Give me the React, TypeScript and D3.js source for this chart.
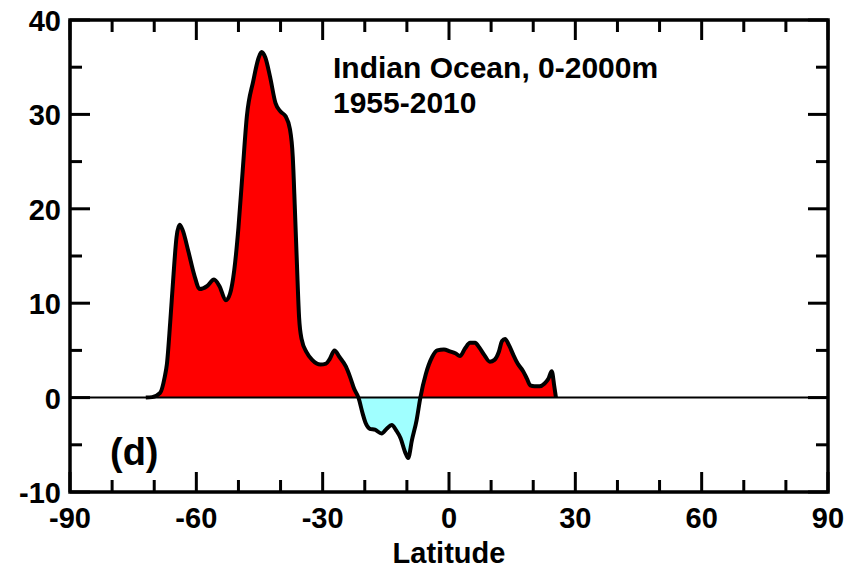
import React from 'react';
import * as d3 from 'd3';

// heat content change by latitude
const latitudes = [
  -72, -70.5, -68.6, -67.5, -67, -66.2, -65.5, -64.7, -64, -63.3, -61.9, -60.5, -59.2, -57.5, -55.8,
  -54.5, -53, -52, -51, -50, -49, -48, -46.5, -45.2, -44.5, -43.6, -42.5, -41.2, -40, -38.8, -37.8,
  -37.1, -36.6, -36.1, -35.6, -35, -33.8, -32.5, -30.5, -29.2, -28.3, -27.2, -26, -24.5, -23.5,
  -22.5, -21.5, -20.5, -19.8, -18.8, -17.6, -16, -14.8, -13.6, -12.5, -11.5, -10.4, -9.7, -8.8,
  -7.7, -6.8, -5.5, -4, -2.8, -1.2, 0.2, 1.5, 2.6, 3.8, 5, 6.2, 7.2, 8.4, 9.7, 10.8, 11.8, 12.6,
  13.3, 14.3, 15.3, 16.3, 17.6, 18.5, 19.3, 20.3, 21.5, 22.7, 23.6, 24.4, 25, 25.4,
];
const values = [
  0, 0.05, 0.5, 2.2, 3.5, 8, 12.5, 17, 18.3, 17.8, 15.5, 13, 11.5, 11.8, 12.5,
  11.8, 10.3, 11, 13.5, 18, 24, 29.8, 33.5, 36, 36.6, 36, 34, 31.2, 30.3, 29.8, 28.5,
  25.5, 20, 14, 8.5, 6.2, 4.8, 4, 3.5, 3.6, 4.1, 5, 4.3, 3.3, 2.2,
  0.9, 0, -1.7, -2.7, -3.3, -3.4, -3.8, -3.3, -2.9, -3.5, -4.3, -5.8, -6.4, -4.5,
  -2.4, 0, 2.5, 4.3, 5, 5.1, 4.9, 4.7, 4.4, 5.2, 5.8, 5.8, 5.3, 4.5, 3.8, 4, 4.8, 6,
  6.2, 5.5, 4.5, 3.6, 2.8, 2, 1.3, 1.2, 1.2, 1.5, 2, 2.8, 1.2, 0,
];
const xTicks = [-90, -60, -30, 0, 30, 60, 90];
const xMinorTicks = d3.range(-80, 90, 10).filter((d) => d % 30 !== 0);
const yTicks = [-10, 0, 10, 20, 30, 40];
const yMinorTicks = [-5, 5, 15, 25, 35];
const title = ['Indian Ocean, 0-2000m', '1955-2010'];

const width = 858;
const height = 571;
const margin = { top: 20, right: 30, bottom: 79, left: 70 };
const font = '"Liberation Sans", Arial, sans-serif';

const App = () => {
  const x = d3.scaleLinear().domain([-90, 90]).range([margin.left, width - margin.right]);
  const y = d3.scaleLinear().domain([-10, 40]).range([height - margin.bottom, margin.top]);

  const data = latitudes.map((lat, i) => ({ lat, v: values[i] }));

  const area = d3.area<{ lat: number; v: number }>()
    .x((d) => x(d.lat))
    .y0(y(0))
    .y1((d) => y(d.v))
    .curve(d3.curveMonotoneX);
  const line = d3.line<{ lat: number; v: number }>()
    .x((d) => x(d.lat))
    .y((d) => y(d.v))
    .curve(d3.curveMonotoneX);

  const [x0, x1] = x.range();
  const [yb, yt] = y.range();

  return (
    <svg width={width} height={height} style={{ position: 'absolute', left: 0, top: 0 }}
      fontFamily={font} fontWeight="bold">
      <defs>
        <clipPath id="above">
          <rect x={x0} y={yt} width={x1 - x0} height={y(0) - yt} />
        </clipPath>
        <clipPath id="below">
          <rect x={x0} y={y(0)} width={x1 - x0} height={yb - y(0)} />
        </clipPath>
      </defs>
      <rect width={width} height={height} fill="#fff" />

      <path d={area(data) || ''} fill="#ff0000" clipPath="url(#above)" />
      <path d={area(data) || ''} fill="#a0ffff" clipPath="url(#below)" />
      <line x1={x0} x2={x1} y1={y(0)} y2={y(0)} stroke="#000" strokeWidth={2} />
      <path d={line(data) || ''} fill="none" stroke="#000" strokeWidth={4} strokeLinejoin="round" />

      {/* frame */}
      <rect x={x0} y={yt} width={x1 - x0} height={yb - yt} fill="none" stroke="#000" strokeWidth={3.5} />

      {xTicks.map((t) => (
        <g key={'x' + t}>
          <line x1={x(t)} x2={x(t)} y1={yb} y2={yb - 20} stroke="#000" strokeWidth={3} />
          <line x1={x(t)} x2={x(t)} y1={yt} y2={yt + 20} stroke="#000" strokeWidth={3} />
          <text x={x(t)} y={yb + 36} textAnchor="middle" fontSize={29}>{t}</text>
        </g>
      ))}
      {xMinorTicks.map((t) => (
        <g key={'xm' + t}>
          <line x1={x(t)} x2={x(t)} y1={yb} y2={yb - 12} stroke="#000" strokeWidth={3} />
          <line x1={x(t)} x2={x(t)} y1={yt} y2={yt + 12} stroke="#000" strokeWidth={3} />
        </g>
      ))}
      {yTicks.map((t) => (
        <g key={'y' + t}>
          <line x1={x0} x2={x0 + 20} y1={y(t)} y2={y(t)} stroke="#000" strokeWidth={3} />
          <line x1={x1} x2={x1 - 20} y1={y(t)} y2={y(t)} stroke="#000" strokeWidth={3} />
          <text x={x0 - 9} y={y(t) + 11} textAnchor="end" fontSize={29}>{t}</text>
        </g>
      ))}
      {yMinorTicks.map((t) => (
        <g key={'ym' + t}>
          <line x1={x0} x2={x0 + 12} y1={y(t)} y2={y(t)} stroke="#000" strokeWidth={3} />
          <line x1={x1} x2={x1 - 12} y1={y(t)} y2={y(t)} stroke="#000" strokeWidth={3} />
        </g>
      ))}

      <text x={(x0 + x1) / 2} y={563} textAnchor="middle" fontSize={29}>Latitude</text>
      <text x={333} y={78} fontSize={30}>{title[0]}</text>
      <text x={333} y={113} fontSize={30}>{title[1]}</text>
      <text x={110} y={465} fontSize={38}>(d)</text>
    </svg>
  );
};

export default App;
